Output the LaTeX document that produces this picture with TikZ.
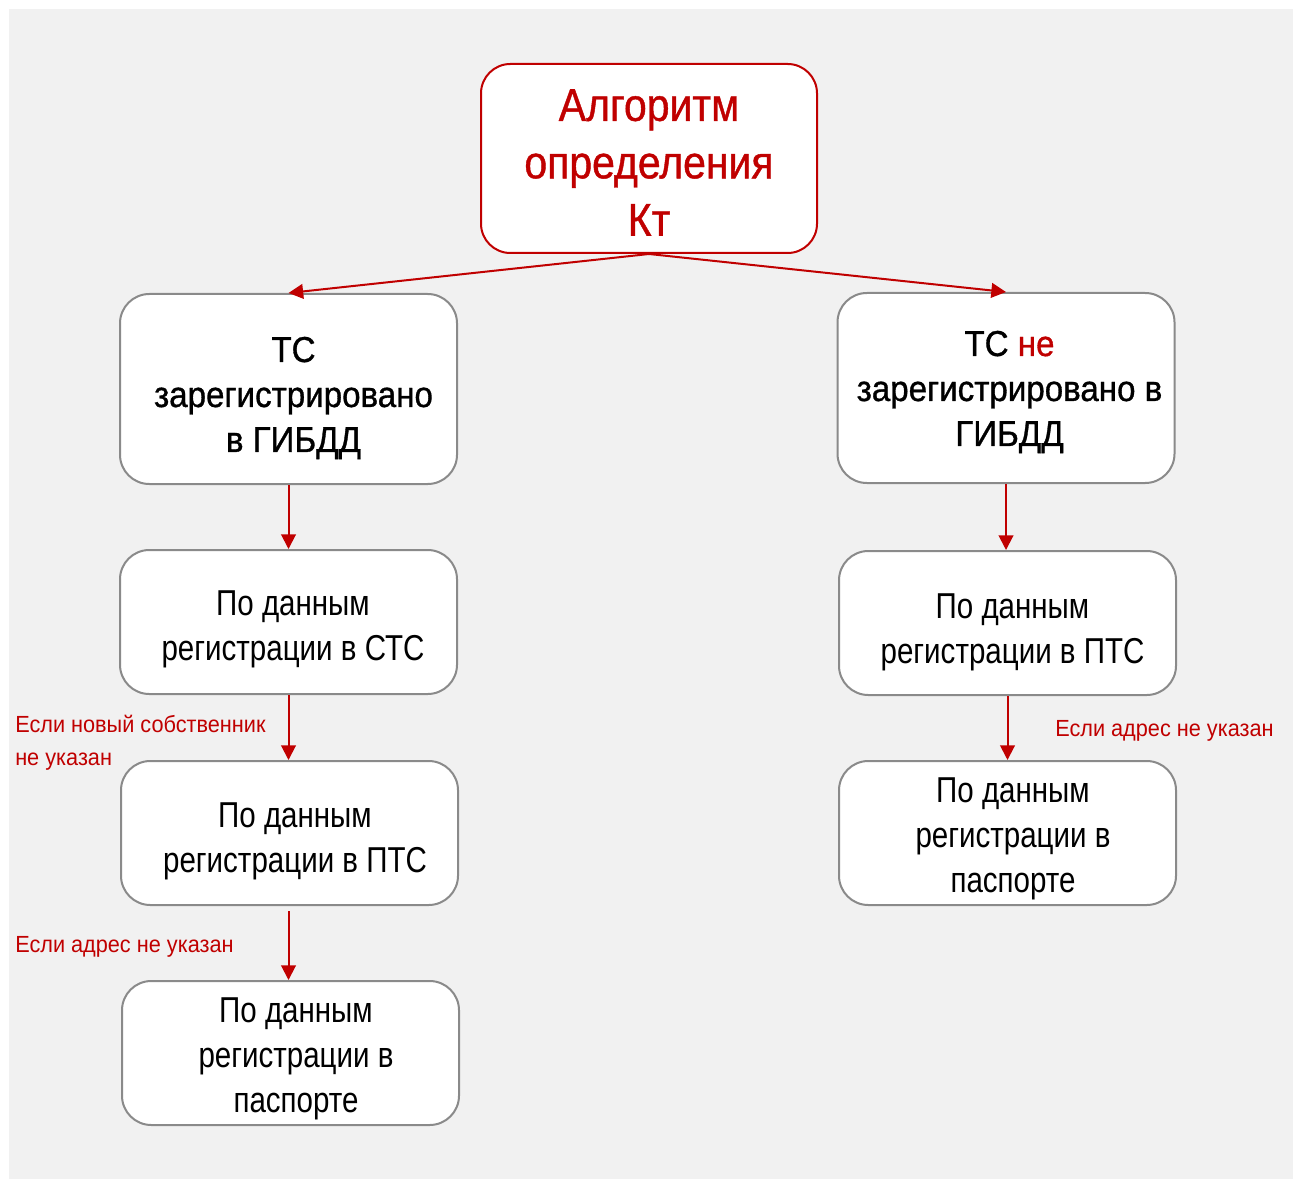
\documentclass[tikz,border=0pt]{standalone}
\usepackage{fontspec}
\setmainfont{Liberation Sans}[FakeStretch=0.82]
\newfontfamily\hdfont{Liberation Sans}[FakeStretch=0.92,FakeBold=0.9]
\newfontfamily\tpfont{Liberation Sans}[FakeStretch=0.89,FakeBold=0.9]
\newfontfamily\lbfont{Liberation Sans}[FakeStretch=0.93]
\usetikzlibrary{arrows.meta}
\definecolor{dred}{HTML}{C00000}
\definecolor{bgc}{HTML}{F1F1F1}
\definecolor{bord}{HTML}{8A8A8A}
\begin{document}
\begin{tikzpicture}[x=0.75pt,y=-0.75pt,
  box/.style={draw=bord, line width=1.5pt, fill=white, rounded corners=22pt,
    inner sep=0pt, minimum width=252.75pt, minimum height=108pt},
  hbox/.style={box, minimum height=142.5pt},
  txt/.style={align=center, inner sep=0pt, font=\fontsize{27}{33.75}\selectfont},
  htxt/.style={txt, font=\hdfont\fontsize{27}{33.75}\selectfont},
  conn/.style={draw=dred, line width=1.5pt, -{Triangle[length=11pt,width=11pt]}},
  lbl/.style={text=dred, anchor=west, align=left, inner sep=0pt,
    font=\lbfont\fontsize{17.5}{24.75}\selectfont}]
\fill[white] (0,0) rectangle (1294,1180);
\fill[bgc] (9,9) rectangle (1293,1179);
% boxes
\node[box, draw=dred, minimum width=252pt, minimum height=141.75pt] (top) at (649,158.5) {};
\node[hbox] (lh) at (288.5,389) {};
\node[hbox] (rh) at (1006,388) {};
\node[box] (l2) at (288.5,622) {};
\node[box] (l3) at (289.5,833) {};
\node[box] (l4) at (290.5,1053) {};
\node[box] (r2) at (1007.5,623) {};
\node[box] (r3) at (1007.5,833) {};
% texts
\node[txt, font=\tpfont\fontsize{34.5}{43.1}\selectfont, text=dred] (topt) at (649,162.5)
  {Алгоритм\\определения\\Кт};
\node[htxt] (lht) at (293.5,398) {ТС\\зарегистрировано\\в ГИБДД};
\node[htxt] (rht) at (1009.5,392) {ТС \textcolor{dred}{не}\\зарегистрировано в\\ГИБДД};
\node[txt] (l2t) at (293,629) {По данным\\регистрации в СТС};
\node[txt] (l3t) at (295,841) {По данным\\регистрации в ПТС};
\node[txt] (l4t) at (296,1059) {По данным\\регистрации в\\паспорте};
\node[txt] (r2t) at (1012.5,632) {По данным\\регистрации в ПТС};
\node[txt] (r3t) at (1013,839) {По данным\\регистрации в\\паспорте};
% connectors
\draw[conn] (top.south) -- (lh.north);
\draw[conn] (top.south) -- (rh.north);
\draw[conn] (lh.south) -- (lh.south |- l2.north);
\draw[conn] (l2.south) -- (l2.south |- l3.north);
\draw[conn, shorten <=4pt] (l3.south -| l2.south) -- (l2.south |- l4.north);
\draw[conn] (rh.south) -- (rh.south |- r2.north);
\draw[conn] (r2.south) -- (r2.south |- r3.north);
% labels
\node[lbl] (la) at (15,742.5) {Если новый собственник\\не указан};
\node[lbl] (lb) at (15,947) {Если адрес не указан};
\node[lbl] (lc) at (1055,731) {Если адрес не указан};
\end{tikzpicture}
\end{document}
